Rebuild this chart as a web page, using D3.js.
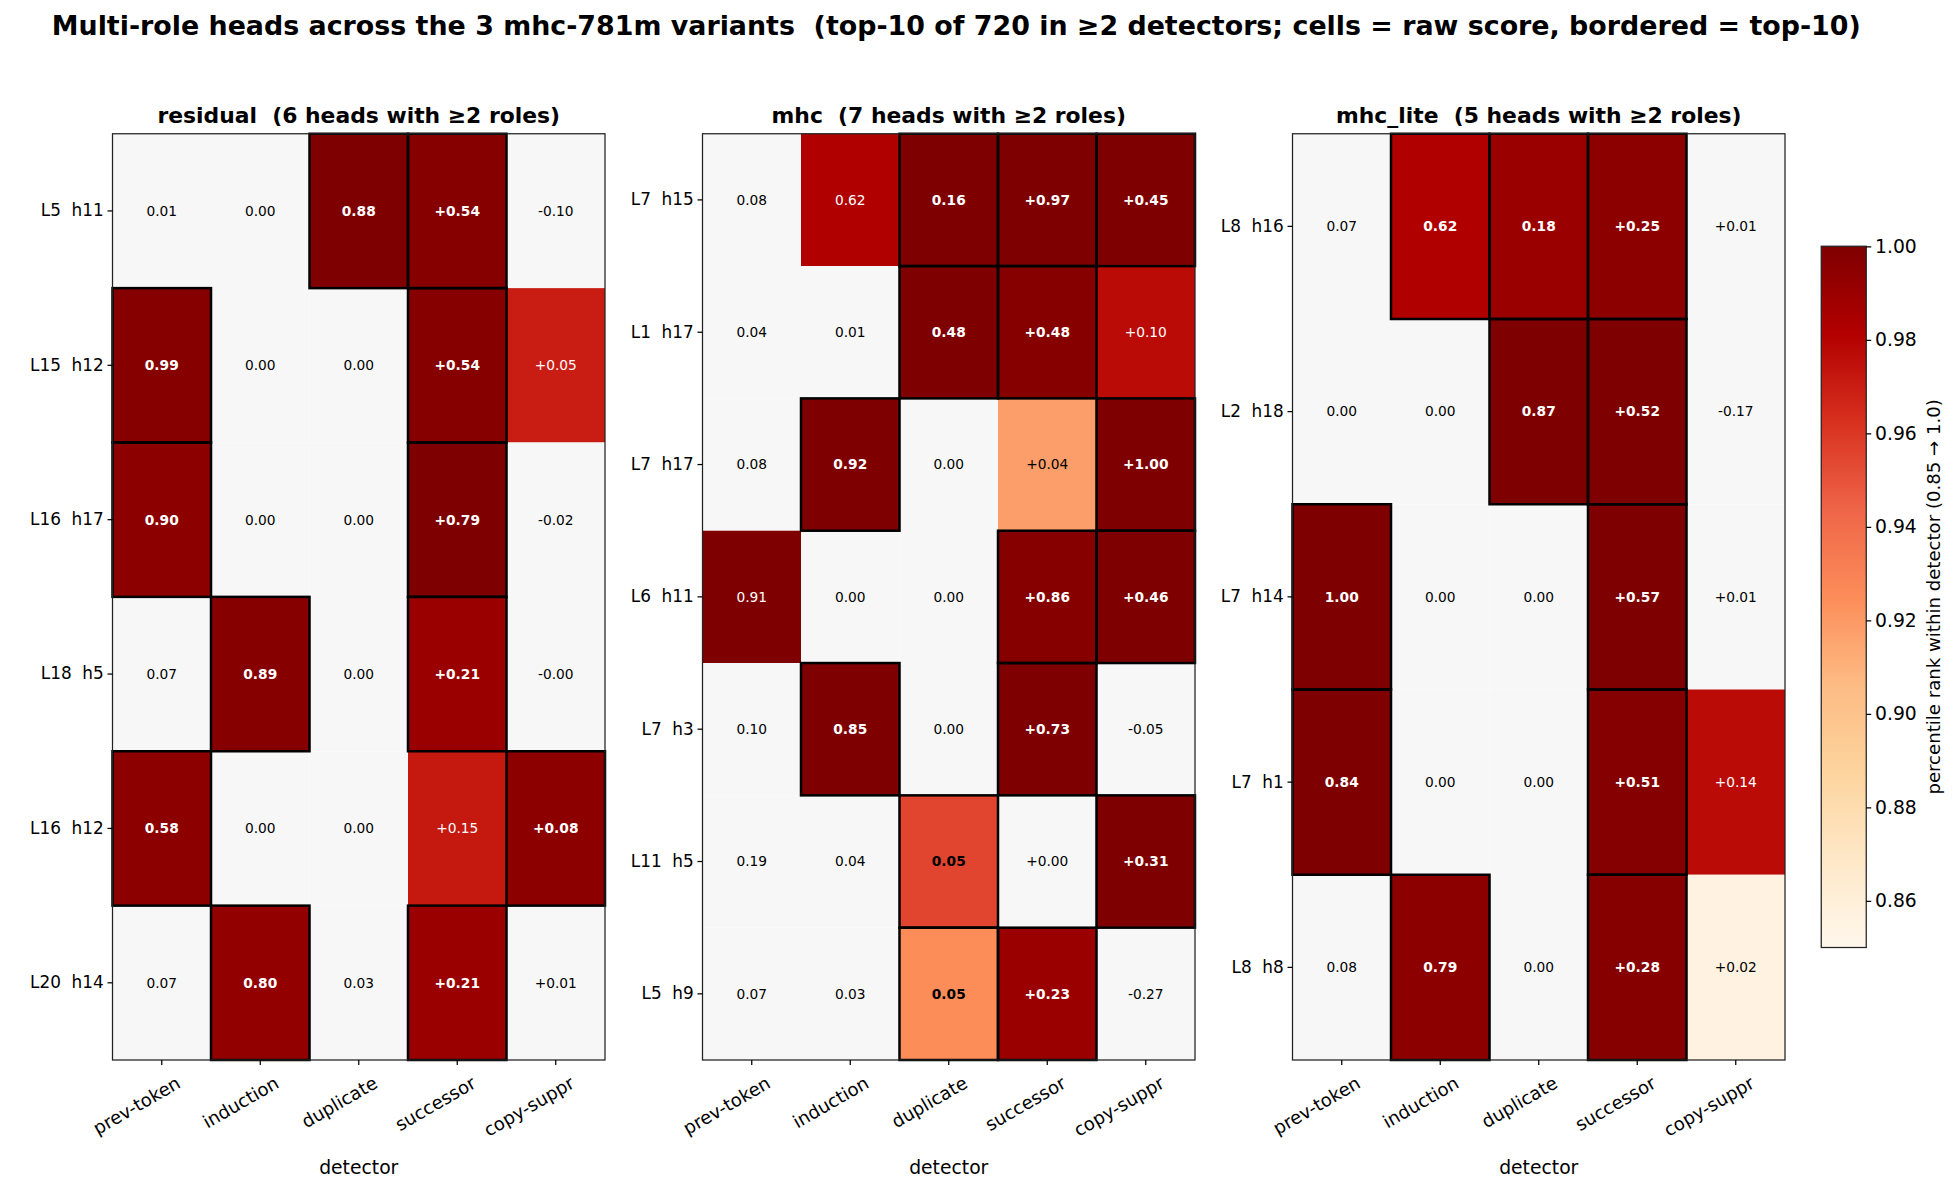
<!DOCTYPE html>
<html><head><meta charset="utf-8">
<script src="https://cdn.jsdelivr.net/npm/d3@7"></script>
<style>body{margin:0;background:#fff}text{font-family:"DejaVu Sans",sans-serif;white-space:pre}</style>
</head><body><svg id="c"></svg>
<script>
const detectors = ['prev-token', 'induction', 'duplicate', 'successor', 'copy-suppr'];
const L = 0; // below colour range

const resHeads = ['L5  h11', 'L15  h12', 'L16  h17', 'L18  h5', 'L16  h12', 'L20  h14'];
const resScores = [
  ['0.01', '0.00', '0.88', '+0.54', '-0.10'],
  ['0.99', '0.00', '0.00', '+0.54', '+0.05'],
  ['0.90', '0.00', '0.00', '+0.79', '-0.02'],
  ['0.07', '0.89', '0.00', '+0.21', '-0.00'],
  ['0.58', '0.00', '0.00', '+0.15', '+0.08'],
  ['0.07', '0.80', '0.03', '+0.21', '+0.01'],
];
const resPct = [
  [L, L, 1.0, 0.997, L],
  [0.997, L, L, 0.997, 0.97],
  [0.995, L, L, 1.0, L],
  [L, 0.997, L, 0.99, L],
  [0.995, L, L, 0.972, 0.995],
  [L, 0.993, L, 0.99, L],
];
const resTop = [
  [0, 0, 1, 1, 0], [1, 0, 0, 1, 0], [1, 0, 0, 1, 0],
  [0, 1, 0, 1, 0], [1, 0, 0, 0, 1], [0, 1, 0, 1, 0],
];

const mhcHeads = ['L7  h15', 'L1  h17', 'L7  h17', 'L6  h11', 'L7  h3', 'L11  h5', 'L5  h9'];
const mhcScores = [
  ['0.08', '0.62', '0.16', '+0.97', '+0.45'],
  ['0.04', '0.01', '0.48', '+0.48', '+0.10'],
  ['0.08', '0.92', '0.00', '+0.04', '+1.00'],
  ['0.91', '0.00', '0.00', '+0.86', '+0.46'],
  ['0.10', '0.85', '0.00', '+0.73', '-0.05'],
  ['0.19', '0.04', '0.05', '+0.00', '+0.31'],
  ['0.07', '0.03', '0.05', '+0.23', '-0.27'],
];
const mhcPct = [
  [L, 0.982, 1.0, 1.0, 1.0],
  [L, L, 1.0, 0.997, 0.977],
  [L, 1.0, L, 0.918, 1.0],
  [1.0, L, L, 0.997, 1.0],
  [L, 1.0, L, 1.0, L],
  [L, L, 0.955, L, 1.0],
  [L, L, 0.925, 0.99, L],
];
const mhcTop = [
  [0, 0, 1, 1, 1], [0, 0, 1, 1, 0], [0, 1, 0, 0, 1], [0, 0, 0, 1, 1],
  [0, 1, 0, 1, 0], [0, 0, 1, 0, 1], [0, 0, 1, 1, 0],
];

const liteHeads = ['L8  h16', 'L2  h18', 'L7  h14', 'L7  h1', 'L8  h8'];
const liteScores = [
  ['0.07', '0.62', '0.18', '+0.25', '+0.01'],
  ['0.00', '0.00', '0.87', '+0.52', '-0.17'],
  ['1.00', '0.00', '0.00', '+0.57', '+0.01'],
  ['0.84', '0.00', '0.00', '+0.51', '+0.14'],
  ['0.08', '0.79', '0.00', '+0.28', '+0.02'],
];
const litePct = [
  [L, 0.982, 0.99, 0.995, L],
  [L, L, 1.0, 1.0, L],
  [1.0, L, L, 1.0, L],
  [1.0, L, L, 0.998, 0.977],
  [L, 0.995, L, 0.997, 0.856],
];
const liteTop = [
  [0, 1, 1, 1, 0], [0, 0, 1, 1, 0], [1, 0, 0, 1, 0], [1, 0, 0, 1, 0], [0, 1, 0, 1, 0],
];

const orrd = ['#fff7ec', '#fee8c8', '#fdd49e', '#fdbb84', '#fc8d59', '#ef6548', '#d7301f', '#b30000', '#7f0000'];

const panels = [
  { title: 'residual  (6 heads with \u22652 roles)', heads: resHeads, scores: resScores, pct: resPct, top: resTop, x0: 90 },
  { title: 'mhc  (7 heads with \u22652 roles)', heads: mhcHeads, scores: mhcScores, pct: mhcPct, top: mhcTop, x0: 562 },
  { title: 'mhc_lite  (5 heads with \u22652 roles)', heads: liteHeads, scores: liteScores, pct: litePct, top: liteTop, x0: 1034 },
];

const W = 1567.2, H = 953.6;
const svg = d3.select('#c').attr('width', 1959).attr('height', 1192).attr('viewBox', `0 0 ${W} ${H}`);
const lin = d3.scaleLinear().domain(d3.range(orrd.length).map((i) => 0.85 + 0.15 * i / (orrd.length - 1))).range(orrd).clamp(true);
const color = (v) => lin(v);
const fillOf = (p) => (p < 0.85 ? '#f7f7f7' : color(p));

svg.append('text').attr('x', 765).attr('y', 28).attr('text-anchor', 'middle')
  .style('font-size', '21.5px').style('font-weight', 'bold')
  .text('Multi-role heads across the 3 mhc-781m variants  (top-10 of 720 in \u22652 detectors; cells = raw score, bordered = top-10)');

const plotTop = 107, plotBottom = 848, pw = 394;
panels.forEach((p) => {
  const x = d3.scaleBand().domain(detectors).range([p.x0, p.x0 + pw]);
  const y = d3.scaleBand().domain(p.heads).range([plotTop, plotBottom]);
  const g = svg.append('g');
  const cells = [];
  p.heads.forEach((h, i) => detectors.forEach((d, j) => cells.push({ h, d, s: p.scores[i][j], pct: p.pct[i][j], top: p.top[i][j] })));

  g.selectAll('.cell').data(cells).enter().append('rect')
    .attr('x', (c) => x(c.d)).attr('y', (c) => y(c.h))
    .attr('width', x.bandwidth()).attr('height', y.bandwidth())
    .attr('fill', (c) => fillOf(c.pct));
  g.selectAll('.frame').data(cells.filter((c) => c.top)).enter().append('rect')
    .attr('x', (c) => x(c.d)).attr('y', (c) => y(c.h))
    .attr('width', x.bandwidth()).attr('height', y.bandwidth())
    .attr('fill', 'none').attr('stroke', '#000').attr('stroke-width', 2);
  g.selectAll('.lab').data(cells).enter().append('text')
    .attr('x', (c) => x(c.d) + x.bandwidth() / 2).attr('y', (c) => y(c.h) + y.bandwidth() / 2)
    .attr('text-anchor', 'middle').attr('dy', '0.35em').style('font-size', '11px')
    .style('font-weight', (c) => (c.top ? 'bold' : 'normal'))
    .attr('fill', (c) => (c.pct > 0.96 ? '#fff' : '#000'))
    .text((c) => c.s);

  g.append('rect').attr('x', p.x0).attr('y', plotTop).attr('width', pw).attr('height', plotBottom - plotTop)
    .attr('fill', 'none').attr('stroke', '#222').attr('stroke-width', 1);

  const ax = g.append('g').attr('transform', `translate(0,${plotBottom})`).call(d3.axisBottom(x).tickSize(4));
  ax.select('.domain').remove();
  ax.selectAll('text').style('font-size', '14.5px').attr('text-anchor', 'end').attr('fill', '#000')
    .attr('transform', 'translate(6,4) rotate(-30)').attr('dy', '0.9em');
  const ay = g.append('g').attr('transform', `translate(${p.x0},0)`).call(d3.axisLeft(y).tickSize(4));
  ay.select('.domain').remove();
  ay.selectAll('text').style('font-size', '13.5px').attr('fill', '#000');

  g.append('text').attr('x', p.x0 + pw / 2).attr('y', 98).attr('text-anchor', 'middle')
    .style('font-size', '17.5px').style('font-weight', 'bold').text(p.title);
  g.append('text').attr('x', p.x0 + pw / 2).attr('y', 939).attr('text-anchor', 'middle')
    .style('font-size', '15px').text('detector');
});

// colorbar
const cbX = 1457, cbW = 36, cbTop = 197, cbBot = 758;
const cy = d3.scaleLinear().domain([0.85, 1.0]).range([cbBot, cbTop]);
const defs = svg.append('defs');
const grad = defs.append('linearGradient').attr('id', 'cb').attr('x1', 0).attr('y1', 1).attr('x2', 0).attr('y2', 0);
d3.range(0, 1.0001, 0.025).forEach((t) => grad.append('stop').attr('offset', t).attr('stop-color', color(0.85 + 0.15 * t)));
svg.append('rect').attr('x', cbX).attr('y', cbTop).attr('width', cbW).attr('height', cbBot - cbTop)
  .attr('fill', 'url(#cb)').attr('stroke', '#222').attr('stroke-width', 1);
const cax = svg.append('g').attr('transform', `translate(${cbX + cbW},0)`)
  .call(d3.axisRight(cy).tickValues([0.86, 0.88, 0.9, 0.92, 0.94, 0.96, 0.98, 1.0]).tickFormat(d3.format('.2f')).tickSize(4));
cax.select('.domain').remove();
cax.selectAll('text').style('font-size', '15px').attr('fill', '#000');
svg.append('text').attr('transform', `translate(1552,${(cbTop + cbBot) / 2}) rotate(-90)`)
  .attr('text-anchor', 'middle').style('font-size', '14.5px')
  .text('percentile rank within detector (0.85 \u2192 1.0)');
</script></body></html>
